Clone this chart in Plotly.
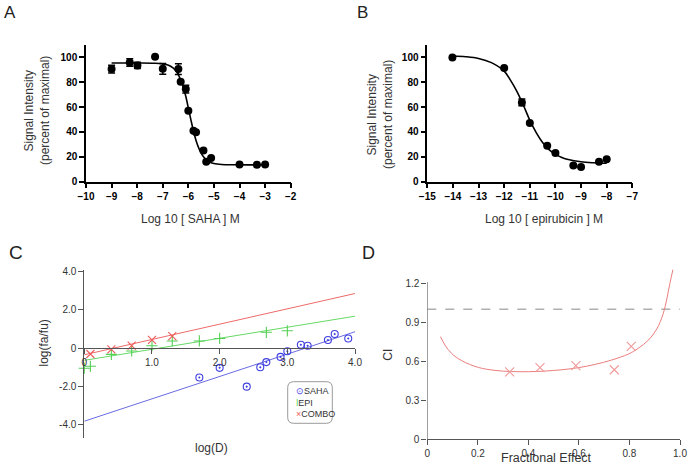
import plotly.graph_objects as go

W, H = 689, 464

# ---------------- Panel A data (SAHA dose response) ----------------
a_logdose = [-9.0, -8.29, -7.99, -7.30, -7.0, -6.39, -6.30, -6.10, -6.0, -5.80, -5.70, -5.41, -5.30, -5.11, -4.0, -3.32, -3.0]
a_signal = [90.6, 96.0, 93.6, 100.5, 90.8, 90.6, 80.4, 74.5, 57.1, 41.0, 39.7, 25.2, 16.1, 19.0, 13.9, 13.7, 13.9]
a_err = [3.2, 3.0, 2.5, 0, 4.4, 4.4, 0, 3.1, 0, 0, 0, 0, 0, 0, 0, 0, 0]
a_fit_x = [-9, -8, -7.3, -7.0, -6.8, -6.6, -6.45, -6.3, -6.2, -6.1, -6.0, -5.9, -5.8, -5.7, -5.6, -5.5, -5.4, -5.3, -5.15, -5.0, -4.7, -4.3, -3.5, -3]
a_fit_y = [95.5, 95.5, 95.3, 94.8, 93.9, 91.6, 88.2, 82.0, 76.0, 68.8, 59.2, 49.8, 40.8, 33.2, 27.4, 23.0, 19.8, 17.6, 15.6, 14.6, 13.9, 13.6, 13.5, 13.5]

# ---------------- Panel B data (epirubicin dose response) ----------------
b_logdose = [-14.02, -12.0, -11.31, -11.0, -10.32, -10.0, -9.30, -9.0, -8.30, -8.0]
b_signal = [100.0, 91.4, 63.8, 47.2, 29.0, 23.0, 13.1, 11.8, 16.1, 18.0]
b_err = [0, 0, 2.7, 0, 0, 0, 0, 0, 0, 0]
b_fit_x = [-14, -13.5, -13, -12.5, -12, -11.75, -11.5, -11.25, -11, -10.75, -10.5, -10.25, -10, -9.75, -9.5, -9, -8.5, -8]
b_fit_y = [101.2, 100.6, 99.2, 95.8, 89.0, 81.5, 72.5, 61.5, 49.5, 39.5, 31.5, 25.8, 22.0, 19.5, 17.8, 16.0, 15.2, 14.8]

# ---------------- Panel C data (median-effect plot) ----------------
saha_x = [1.70, 2.0, 2.40, 2.60, 2.69, 2.90, 3.0, 3.20, 3.30, 3.60, 3.70, 3.90]
saha_y = [-1.53, -1.03, -2.01, -1.0, -0.73, -0.46, -0.17, 0.17, 0.12, 0.42, 0.73, 0.50]
epi_x = [0.0, 0.09, 0.40, 0.70, 1.0, 1.30, 1.70, 2.0, 2.69, 3.0]
epi_y = [-1.05, -0.95, -0.33, -0.15, 0.12, 0.37, 0.37, 0.50, 0.82, 0.90]
combo_x = [0.09, 0.40, 0.70, 1.0, 1.30]
combo_y = [-0.31, -0.07, 0.13, 0.43, 0.62]
line_x = [0.0, 4.0]
saha_line_y = [-3.81, 0.85]
epi_line_y = [-0.64, 1.66]
combo_line_y = [-0.35, 2.84]

# ---------------- Panel D data (CI vs fractional effect) ----------------
d_fa = [0.326, 0.446, 0.588, 0.740, 0.807]
d_ci = [0.518, 0.551, 0.566, 0.535, 0.715]
d_curve_fa = [0.052, 0.070, 0.096, 0.136, 0.202, 0.268, 0.334, 0.400, 0.466, 0.532, 0.598, 0.664, 0.730, 0.796, 0.835, 0.875, 0.908, 0.934, 0.947, 0.960, 0.972]
d_curve_ci = [0.79, 0.725, 0.661, 0.605, 0.553, 0.530, 0.521, 0.520, 0.525, 0.535, 0.551, 0.576, 0.610, 0.656, 0.700, 0.763, 0.848, 0.969, 1.071, 1.199, 1.305]
d_ref = [1.0, 1.0]
d_ref_x = [0.0, 1.0]

FONT = "Liberation Sans, Arial, sans-serif"


def px_x(p):
    return p / W


def px_y(p):
    return (H - p) / H


fig = go.Figure()

# Panel A
fig.add_trace(go.Scatter(x=a_fit_x, y=a_fit_y, mode="lines", line=dict(color="black", width=1.6, shape="spline"),
                         xaxis="x", yaxis="y", showlegend=False))
fig.add_trace(go.Scatter(x=a_logdose, y=a_signal, mode="markers",
                         marker=dict(color="black", size=8),
                         error_y=dict(type="data", array=a_err, color="black", thickness=1.5, width=3.5),
                         xaxis="x", yaxis="y", showlegend=False, cliponaxis=False))
# Panel B
fig.add_trace(go.Scatter(x=b_fit_x, y=b_fit_y, mode="lines", line=dict(color="black", width=1.6, shape="spline"),
                         xaxis="x2", yaxis="y2", showlegend=False))
fig.add_trace(go.Scatter(x=b_logdose, y=b_signal, mode="markers",
                         marker=dict(color="black", size=8),
                         error_y=dict(type="data", array=b_err, color="black", thickness=1.5, width=3.5),
                         xaxis="x2", yaxis="y2", showlegend=False, cliponaxis=False))
# Panel C
fig.add_trace(go.Scatter(x=line_x, y=combo_line_y, mode="lines", line=dict(color="#ee6a6a", width=1),
                         xaxis="x3", yaxis="y3", showlegend=False))
fig.add_trace(go.Scatter(x=line_x, y=epi_line_y, mode="lines", line=dict(color="#66d966", width=1),
                         xaxis="x3", yaxis="y3", showlegend=False))
fig.add_trace(go.Scatter(x=line_x, y=saha_line_y, mode="lines", line=dict(color="#6b6be0", width=1),
                         xaxis="x3", yaxis="y3", showlegend=False))
fig.add_trace(go.Scatter(x=saha_x, y=saha_y, mode="markers", name="SAHA",
                         marker=dict(symbol="circle-open-dot", size=7, color="#3f3fe0", line=dict(width=1.1)),
                         xaxis="x3", yaxis="y3", showlegend=False, cliponaxis=False))
fig.add_trace(go.Scatter(x=epi_x, y=epi_y, mode="markers", name="EPI",
                         marker=dict(symbol="cross-thin", size=8, color="#55d055", line=dict(width=1.1, color="#55d055")),
                         xaxis="x3", yaxis="y3", showlegend=False, cliponaxis=False))
fig.add_trace(go.Scatter(x=combo_x, y=combo_y, mode="markers", name="COMBO",
                         marker=dict(symbol="x-thin", size=8, color="#ee5a5a", line=dict(width=1.1, color="#ee5a5a")),
                         xaxis="x3", yaxis="y3", showlegend=False, cliponaxis=False))
# Panel D
fig.add_trace(go.Scatter(x=d_ref_x, y=d_ref, mode="lines", line=dict(color="#b0b0b0", width=1.5, dash="dash"),
                         xaxis="x4", yaxis="y4", showlegend=False))
fig.add_trace(go.Scatter(x=d_curve_fa, y=d_curve_ci, mode="lines", line=dict(color="#ea7d7d", width=1, shape="spline"),
                         xaxis="x4", yaxis="y4", showlegend=False, cliponaxis=False))
fig.add_trace(go.Scatter(x=d_fa, y=d_ci, mode="markers",
                         marker=dict(symbol="x-thin", size=9, color="#f09a9a", line=dict(width=1.1, color="#f09a9a")),
                         xaxis="x4", yaxis="y4", showlegend=False, cliponaxis=False))

ab_tickfont = dict(family=FONT, size=10, color="black", weight="bold")
ab_axis = dict(showline=True, linecolor="black", linewidth=1.5, ticks="outside", ticklen=5, tickwidth=1.5,
               tickcolor="black", showgrid=False, zeroline=False, tickfont=ab_tickfont, automargin=False)
cd_tickfont = dict(family=FONT, size=10, color="#333333")
cd_axis = dict(showline=True, linecolor="#555555", linewidth=1, ticks="outside", ticklen=5, tickwidth=1,
               tickcolor="#555555", showgrid=False, zeroline=False, tickfont=cd_tickfont, automargin=False)

yA_dom = [px_y(181.7), px_y(45)]
c_yrange = [-4.7, 4.05]
c_ydom = [px_y(438.3), px_y(270.3)]
c_xpos = c_ydom[0] + (0 - c_yrange[0]) / (c_yrange[1] - c_yrange[0]) * (c_ydom[1] - c_ydom[0])

fig.update_layout(
    template="none",
    width=W, height=H, margin=dict(l=0, r=0, t=0, b=0, pad=0), autosize=False,
    paper_bgcolor="white", plot_bgcolor="white",
    font=dict(family=FONT),
    xaxis=dict(domain=[px_x(86), px_x(290.7)], range=[-10, -2], dtick=1, anchor="y", **ab_axis),
    yaxis=dict(domain=yA_dom, range=[0, 110], tickvals=[0, 20, 40, 60, 80, 100], anchor="x", **ab_axis),
    xaxis2=dict(domain=[px_x(427.3), px_x(632.3)], range=[-15, -7], dtick=1, anchor="y2", **ab_axis),
    yaxis2=dict(domain=yA_dom, range=[0, 110], tickvals=[0, 20, 40, 60, 80, 100], anchor="x2", **ab_axis),
    xaxis3=dict(domain=[px_x(84.3), px_x(355)], range=[0, 4], anchor="free", position=c_xpos,
                tickvals=[0, 1, 2, 3, 4], ticktext=["0", "1.0", "2.0", "3.0", "4.0"], **cd_axis),
    yaxis3=dict(domain=c_ydom, range=c_yrange, anchor="x3",
                tickvals=[-4, -2, 0, 2, 4], ticktext=["-4.0", "-2.0", "0", "2.0", "4.0"], **cd_axis),
    xaxis4=dict(domain=[px_x(427.3), px_x(680)], range=[0, 1.0], anchor="y4",
                tickvals=[0, 0.2, 0.4, 0.6, 0.8, 1.0], ticktext=["0", "0.2", "0.4", "0.6", "0.8", "1.0"], **cd_axis),
    yaxis4=dict(domain=[px_y(439.3), px_y(267.7)], range=[0, 1.32], anchor="x4",
                tickvals=[0, 0.3, 0.6, 0.9, 1.2], ticktext=["0", "0.3", "0.6", "0.9", "1.2"],
                **{**cd_axis, "showline": False}),
)

# D y-axis line only up to 1.21
fig.add_shape(type="line", xref="x4", yref="y4", x0=0, x1=0, y0=0, y1=1.21,
              line=dict(color="#555555", width=1))

# Rounded legend box for panel C
bx0, bx1, by0, by1, r = 287.7, 332.3, 381.7, 423.3, 6
path = (f"M {px_x(bx0 + r)},{px_y(by0)} L {px_x(bx1 - r)},{px_y(by0)} "
        f"Q {px_x(bx1)},{px_y(by0)} {px_x(bx1)},{px_y(by0 + r)} "
        f"L {px_x(bx1)},{px_y(by1 - r)} Q {px_x(bx1)},{px_y(by1)} {px_x(bx1 - r)},{px_y(by1)} "
        f"L {px_x(bx0 + r)},{px_y(by1)} Q {px_x(bx0)},{px_y(by1)} {px_x(bx0)},{px_y(by1 - r)} "
        f"L {px_x(bx0)},{px_y(by0 + r)} Q {px_x(bx0)},{px_y(by0)} {px_x(bx0 + r)},{px_y(by0)} Z")
fig.add_shape(type="path", xref="paper", yref="paper", path=path,
              line=dict(color="#9a9a9a", width=1), fillcolor="white")

ann = []


def text(x, y, t, size=12, color="#333333", angle=0, xanchor="center", **kw):
    ann.append(dict(x=px_x(x), y=px_y(y), xref="paper", yref="paper", text=t, showarrow=False,
                    font=dict(family=FONT, size=size, color=color), textangle=angle,
                    xanchor=xanchor, yanchor="middle", **kw))


# panel letters
text(9.5, 12.5, "A", size=17, color="#222222")
text(362.5, 12.5, "B", size=17, color="#222222")
text(16, 252, "C", size=19, color="#222222")
text(368, 252.5, "D", size=18, color="#222222")

# A/B axis titles
text(190.7, 218.5, "Log 10 [ SAHA ] M", size=12)
text(28.5, 111, "Signal Intensity", size=12, angle=-90)
text(45, 111, "(percent of maximal)", size=12, angle=-90)
text(544, 218.5, "Log 10 [ epirubicin ] M", size=12)
text(371.5, 115, "Signal Intensity", size=12, angle=-90)
text(388, 115, "(percent of maximal)", size=12, angle=-90)

# C/D axis titles
text(43.5, 343, "log(fa/fu)", size=12, angle=-90)
text(211.7, 448, "log(D)", size=12)
text(387.7, 355, "CI", size=12, angle=-90)
text(546, 458, "Fractional Effect", size=12.5)

# C legend contents
legend_html = ("<span style='color:#3f3fe0;font-size:9px'>⊙</span>SAHA<br>"
               "<span style='color:#55d055'>ǀ</span>EPI<br>"
               "<span style='color:#ee5a5a'>×</span>COMBO")
text(293.5, 402.5, legend_html, size=9, color="#333333", xanchor="left", align="left")

fig.update_layout(annotations=ann)

fig.write_html(
    "out.html",
    config={"displayModeBar": False},
    post_script="document.body.style.margin='0';document.body.style.padding='0';document.body.style.overflow='hidden';",
)
